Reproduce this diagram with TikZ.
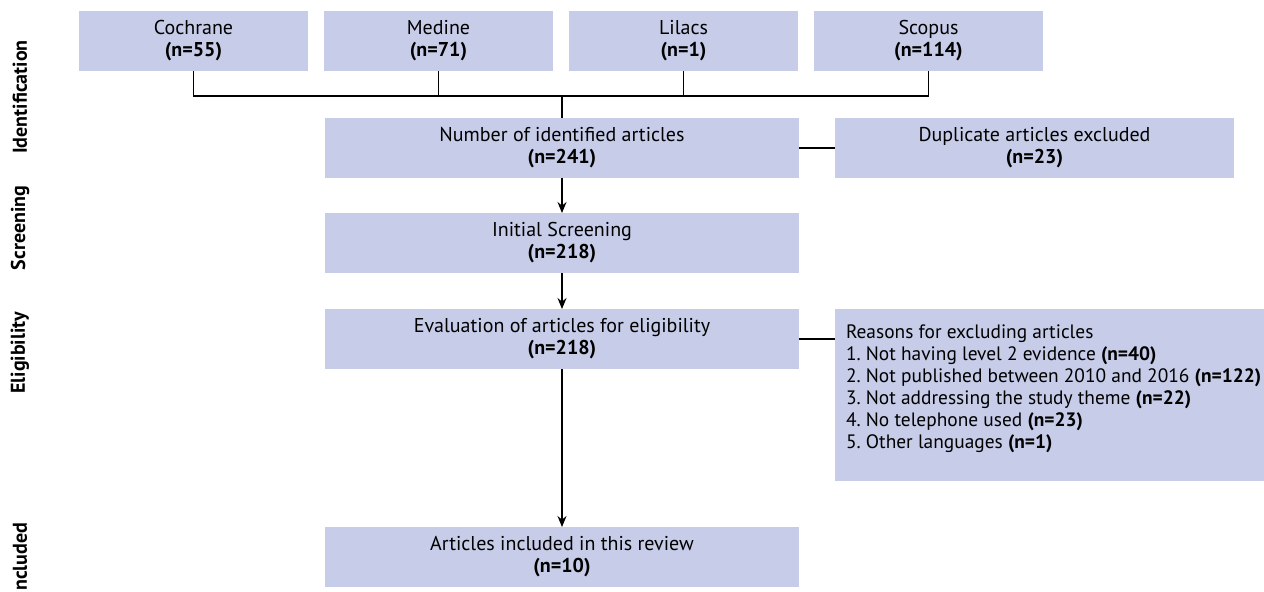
\documentclass[tikz,border=0pt]{standalone}
\usepackage{fontspec}
\setmainfont{PT Sans}
\usetikzlibrary{positioning,arrows.meta}
\definecolor{boxblue}{RGB}{199,204,232}
\tikzset{
  box/.style={fill=boxblue, minimum width=237pt, minimum height=30pt,
    inner sep=2pt, outer sep=0pt, align=center,
    font=\fontsize{10}{11}\selectfont},
  src/.style={box, minimum width=114.5pt},
  side/.style={box, minimum width=199.5pt},
  phase/.style={rotate=90, inner sep=0pt, font=\fontsize{10}{11}\selectfont\bfseries},
  link/.style={line width=0.65pt},
  flow/.style={link, -{Stealth[length=5.5pt,width=4.5pt]}}
}
\frenchspacing
\begin{document}
\begin{tikzpicture}
  \useasboundingbox (0,0) rectangle (632pt,-295.5pt);

  % databases
  \node[src, anchor=north west] (coch) at (39.5pt,-5.5pt) {Cochrane\\\textbf{(n=55)}};
  \node[src, right=8pt of coch] (med) {Medine\\\textbf{(n=71)}};
  \node[src, right=8pt of med] (lil) {Lilacs\\\textbf{(n=1)}};
  \node[src, right=8pt of lil] (scop) {Scopus\\\textbf{(n=114)}};

  % main column
  \node[box, anchor=north] (num) at (281pt,-59pt) {Number of identified articles\\\textbf{(n=241)}};
  \node[box, below=17.5pt of num] (init) {Initial Screening\\\textbf{(n=218)}};
  \node[box, below=18pt of init] (eval) {Evaluation of articles for eligibility\\\textbf{(n=218)}};
  \node[box, below=79pt of eval] (art) {Articles included in this review\\\textbf{(n=10)}};

  % excluded
  \node[side, right=18pt of num] (dup) {Duplicate articles excluded\\\textbf{(n=23)}};
  \node[side, anchor=north west, minimum width=213.5pt, minimum height=86pt,
        inner xsep=5.5pt, align=left, font=\fontsize{9.7}{11}\selectfont] (why)
        at (dup.west |- eval.north)
    {Reasons for excluding articles\\
     1. Not having level 2 evidence \textbf{(n=40)}\\
     2. Not published between 2010 and 2016 \textbf{(n=122)}\\
     3. Not addressing the study theme \textbf{(n=22)}\\
     4. No telephone used \textbf{(n=23)}\\
     5. Other languages \textbf{(n=1)}\\[-3pt]};

  % phases
  \node[phase] (idf) at (10pt,-48.5pt) {Identification};
  \node[phase] (scr) at (10pt,-114pt) {Screening};
  \node[phase] (elg) at (10pt,-176.5pt) {Eligibility};
  \node[phase, anchor=west] (inc) at (10pt,-295.5pt) {ncluded};

  \coordinate (join) at (num.north |- 0,-48pt);
  \draw[link] (coch.south) |- (join);
  \draw[link] (scop.south) |- (join);
  \draw[link] (med.south) -- (med.south |- join);
  \draw[link] (lil.south) -- (lil.south |- join);
  \draw[link] (join) -- (num.north);

  \draw[flow] (num) -- (init);
  \draw[flow] (init) -- (eval);
  \draw[flow] (eval) -- (art);
  \draw[link] (num) -- (dup);
  \draw[link] (eval.east) -- (eval.east -| why.west);
\end{tikzpicture}
\end{document}
